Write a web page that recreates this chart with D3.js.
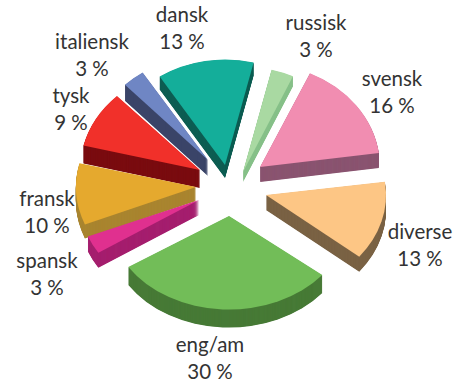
<!DOCTYPE html>
<html>
<head>
<meta charset="utf-8">
<script src="https://cdn.jsdelivr.net/npm/d3@7/dist/d3.min.js"></script>
<style>
  html, body { margin: 0; padding: 0; background: #fff; }
  text { font-family: Lato, "Open Sans", sans-serif; font-size: 20.5px; fill: #333; text-anchor: middle; }
</style>
</head>
<body>
<svg id="chart" width="454" height="382"></svg>
<script>
// Language shares, clockwise from the upper left
const languages = ["dansk", "russisk", "svensk", "diverse", "eng/am", "spansk", "fransk", "tysk", "italiensk"];
const shares = [13, 3, 16, 13, 30, 3, 10, 9, 3];

// Slice appearance
const topColors = ["#14ae9a", "#a9d9a2", "#f18db1", "#fdc685", "#72bd58", "#e0308f", "#e5a92e", "#f1302a", "#6f86c4"];
const sideColors = ["#0d5d52", "#86c088", "#8a5470", "#7a6244", "#477a36", "#a51f6e", "#a98530", "#7a0c10", "#3a4468"];
const explodeX = [-3, 15, 32, 38, 1, -29, -32, -28, -20];
const explodeY = [-22, -15, -20, 8, 29, 13, 0, -17, -27];
const depthBy = [13, 10, 15, 15, 18, 15, 14, 18, 16];

// Label anchors [x, first baseline]
const labelAnchors = [[182, 22], [316, 30], [392, 86], [420, 239], [210, 352], [47, 268], [47, 206], [71, 103], [92, 49]];

const width = 454, height = 382;
const cx = 228, cy = 187, radius = 120;

const svg = d3.select("#chart");

const pie = d3.pie().sort(null).startAngle(-33 * Math.PI / 180).endAngle(327 * Math.PI / 180);
const arc = d3.arc().innerRadius(0).outerRadius(radius);
const arcs = pie(shares).map((d, i) => {
  const mid = (d.startAngle + d.endAngle) / 2;
  return {
    ...d, i,
    tilt: 0.83 + 0.05 * Math.cos(mid),
    ox: cx + explodeX[i],
    oy: cy + explodeY[i]
  };
});

// Farther slices first, so nearer ones paint over them
const ordered = arcs.slice().sort((a, b) => a.oy - b.oy);

const slices = svg.selectAll("g.slice").data(ordered).join("g").attr("class", "slice");

// The wall of each slice: the wedge repeated downwards
slices.each(function (d) {
  d3.select(this).selectAll("path.wall")
    .data(d3.range(depthBy[d.i], 0, -0.5))
    .join("path")
    .attr("class", "wall")
    .attr("d", arc(d))
    .attr("fill", sideColors[d.i])
    .attr("transform", s => `translate(${d.ox},${d.oy + s}) scale(1,${d.tilt})`);
});

// The lit top face
slices.append("path")
  .attr("d", d => arc(d))
  .attr("fill", d => topColors[d.i])
  .attr("transform", d => `translate(${d.ox},${d.oy}) scale(1,${d.tilt})`);

// Two-line labels: name and percentage
const labels = svg.selectAll("g.label").data(languages).join("g").attr("class", "label");
labels.append("text")
  .attr("x", (d, i) => labelAnchors[i][0])
  .attr("y", (d, i) => labelAnchors[i][1])
  .text(d => d);
labels.append("text")
  .attr("x", (d, i) => labelAnchors[i][0])
  .attr("y", (d, i) => labelAnchors[i][1] + 27)
  .text((d, i) => `${shares[i]} %`);
</script>
</body>
</html>
